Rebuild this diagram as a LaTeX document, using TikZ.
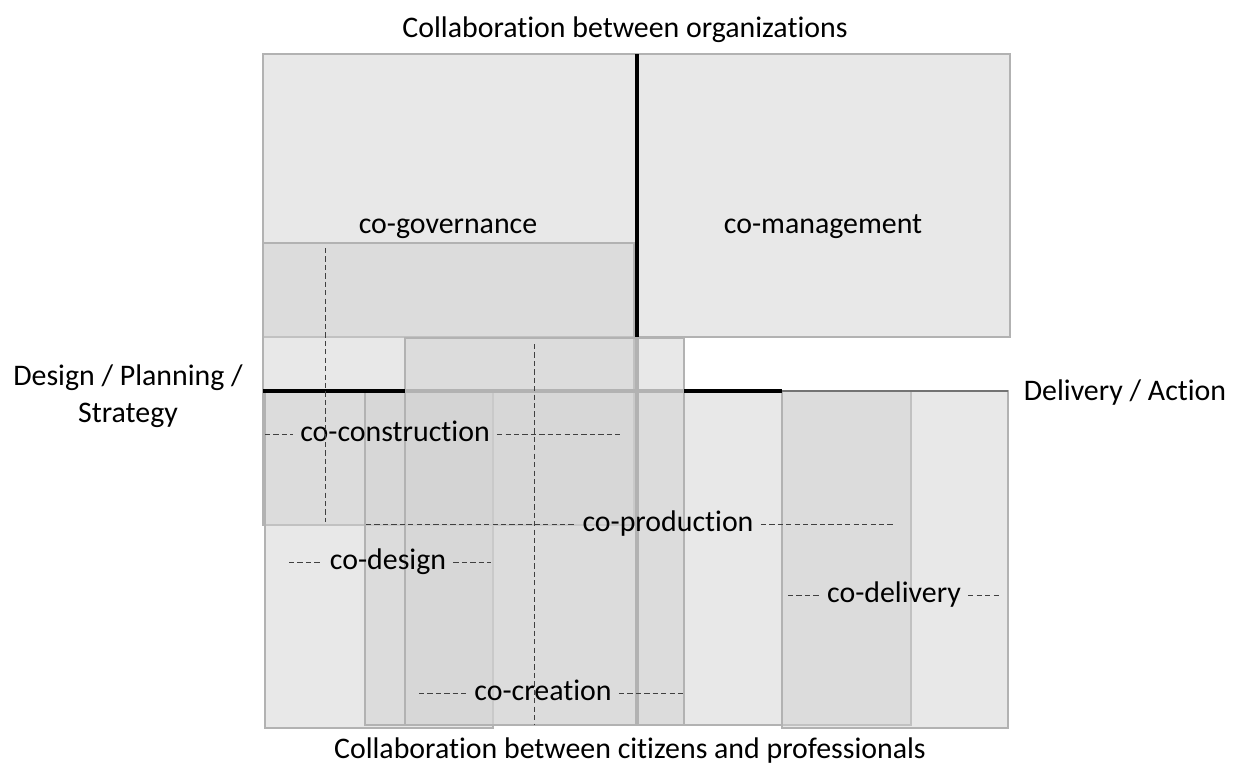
\documentclass[tikz,border=0pt]{standalone}
\usepackage{fontspec}
\setmainfont[Ligatures=NoCommon]{Carlito}

\tikzset{
  zone/.style={draw=gray!60, line width=0.7pt, fill=black!18, fill opacity=0.5},
  axis/.style={line width=2pt, black},
  hidden/.style={line width=2pt, black!30},
  guide/.style={dash pattern=on 3pt off 1.8pt, line width=0.5pt, black!75},
  lab/.style={inner sep=4pt, text height=12pt, text depth=4pt, font=\fontsize{17}{21}\selectfont},
}

\begin{document}
\begin{tikzpicture}[x=0.02cm, y=-0.02cm]
	\useasboundingbox (0,0) rectangle (1242,774);
	% zones
	\draw[zone] (263,54) rectangle (637,337);
	\draw[zone] (637,54) rectangle (1010,337);
	\draw[zone] (263,243) rectangle (634,525);
	\draw[zone] (265,391) rectangle (493,728);
	\draw[zone] (365,391) rectangle (911,725);
	\draw[zone] (782,391) rectangle (1008,728);
	\draw[zone] (405,338) rectangle (684,725);
	% axes
	\coordinate (top) at (637,54);
	\coordinate (mid) at (637,337);
	\coordinate (bot) at (637,725);
	\coordinate (left) at (263,391);
	\coordinate (h1) at (405,391);
	\coordinate (h2) at (684,391);
	\coordinate (h3) at (782,391);
	\coordinate (right) at (1008,391);
	\draw[axis] (top) -- (mid);
	\draw[hidden] (mid) -- (bot);
	\draw[axis] (left) -- (h1);
	\draw[hidden] (h1) -- (h2);
	\draw[axis] (h2) -- (h3);
	\draw[line width=1.4pt, black!55] (h3) -- (right);
	% labels
	\node[lab] (gov) at (448,226) {co-governance};
	\node[lab] (man) at (823,226) {co-management};
	\node[lab] (cons) at (395,434) {co-construction};
	\node[lab] (prod) at (668,524) {co-production};
	\node[lab] (des) at (388,562) {co-design};
	\node[lab] (crea) at (543,693) {co-creation};
	\node[lab] (deli) at (894,595) {co-delivery};
	\node[lab] (org) at (625,30) {Collaboration between organizations};
	\node[lab] (cit) at (630,751) {Collaboration between citizens and professionals};
	\node[lab] (act) at (1125,393) {Delivery / Action};
	\node[align=center, font=\fontsize{17}{21}\selectfont] (plan) at (128,396) {Design / Planning /\\ Strategy};
	% dashed guides
	\coordinate (consW) at (265,434);
	\coordinate (consE) at (623,434);
	\coordinate (consN) at (325,248);
	\coordinate (consS) at (325,522);
	\coordinate (prodW) at (366,524);
	\coordinate (prodE) at (895,524);
	\coordinate (desW) at (289,562);
	\coordinate (desE) at (491,562);
	\coordinate (creaW) at (419,693);
	\coordinate (creaE) at (685,693);
	\coordinate (creaN) at (534,344);
	\coordinate (creaS) at (534,725);
	\coordinate (deliW) at (788,595);
	\coordinate (deliE) at (1001,595);
	\draw[guide] (consW) -- (cons) -- (consE);
	\draw[guide] (consN) -- (consS);
	\draw[guide] (prodW) -- (prod) -- (prodE);
	\draw[guide] (desW) -- (des) -- (desE);
	\draw[guide] (creaW) -- (crea) -- (creaE);
	\draw[guide] (creaN) -- (creaS);
	\draw[guide] (deliW) -- (deli) -- (deliE);
\end{tikzpicture}
\end{document}
